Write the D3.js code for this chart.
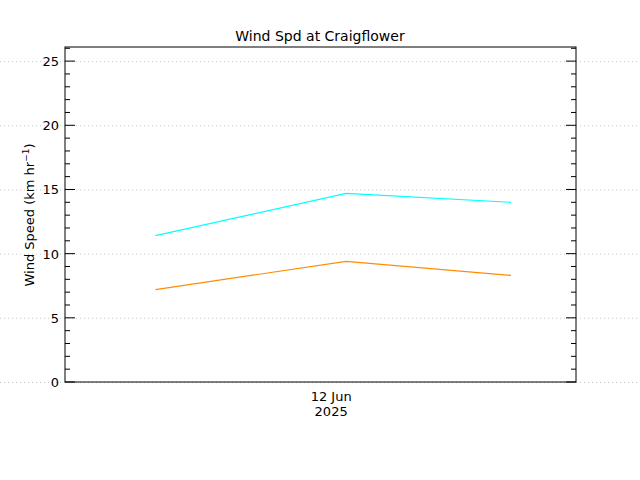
<!DOCTYPE html>
<html><head><meta charset="utf-8">
<script src="https://cdn.jsdelivr.net/npm/d3@7"></script>
<style>body{margin:0;background:#fff}</style></head>
<body><svg id="c" width="640" height="480"></svg>
<script>
const times = ["2025-06-11T07:30","2025-06-12T01:24","2025-06-12T16:54"];
const seriesGust = [11.4, 14.7, 14.0];
const seriesMean = [7.2, 9.4, 8.3];
const yTicks = [0,5,10,15,20,25];
const xTickDate = "2025-06-12T00:00";
const xTickLabel = ["12 Jun","2025"];
const colors = ["#00ffff","#ff8c00"];

const svg = d3.select("#c");
const L=65,R=576,T=47,B=382;
const parse = d3.timeParse("%Y-%m-%dT%H:%M");
const x = d3.scaleTime().domain([parse("2025-06-10T23:00"),parse("2025-06-12T23:00")]).range([L,R]);
const y = d3.scaleLinear().domain([0,26.1]).range([B,T]);
const font = "DejaVu Sans, sans-serif";

svg.selectAll(".g").data(yTicks).enter().append("line")
 .attr("x1",0).attr("x2",640).attr("y1",d=>y(d)+0.5).attr("y2",d=>y(d)+0.5)
 .attr("stroke","#c8c8c8").attr("stroke-dasharray","1,3");
svg.append("rect").attr("x",L).attr("y",T).attr("width",R-L).attr("height",B-T)
 .attr("fill","none").attr("stroke","#000");
const minors = d3.range(0,27,1);
svg.selectAll(".mt").data(minors).enter().append("path")
 .attr("d",d=>{const v=y(d), len = d%5===0?10:5; return `M${L},${v}h${len}M${R},${v}h${-len}`;})
 .attr("stroke","#000");
svg.selectAll(".yl").data(yTicks).enter().append("text")
 .attr("x",L-6).attr("y",d=>y(d)+5).attr("text-anchor","end")
 .attr("font-family",font).attr("font-size",13).text(d=>d);
const xt = svg.append("text").attr("x",x(parse(xTickDate))).attr("y",401)
 .attr("text-anchor","middle").attr("font-family",font).attr("font-size",13);
xTickLabel.forEach((s,i)=>xt.append("tspan").attr("x",x(parse(xTickDate))).attr("dy",i?15:0).text(s));
svg.append("text").attr("x",320).attr("y",41).attr("text-anchor","middle")
 .attr("font-family",font).attr("font-size",14).text("Wind Spd at Craigflower");
const yt = svg.append("text").attr("transform","translate(34,215) rotate(-90)")
 .attr("text-anchor","middle").attr("font-family",font).attr("font-size",13);
yt.append("tspan").text("Wind Speed (km hr");
yt.append("tspan").attr("dy",-5).attr("font-size",9).text("−1");
yt.append("tspan").attr("dy",5).text(")");
const line = d3.line().x((d,i)=>x(parse(times[i]))).y(d=>y(d));
[seriesGust,seriesMean].forEach((s,i)=>svg.append("path").datum(s).attr("d",line)
 .attr("fill","none").attr("stroke",colors[i]).attr("stroke-width",1.2));
</script></body></html>
